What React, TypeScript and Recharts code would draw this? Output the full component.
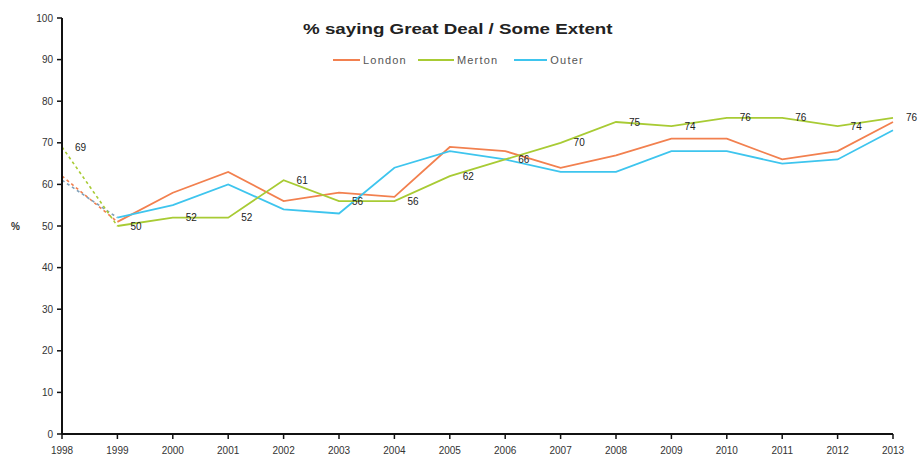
import React from 'react';
import { LineChart, Line, XAxis, YAxis, LabelList } from 'recharts';

const years = ['1998', '1999', '2000', '2001', '2002', '2003', '2004', '2005', '2006', '2007', '2008', '2009', '2010', '2011', '2012', '2013'];
const london = [62, 51, 58, 63, 56, 58, 57, 69, 68, 64, 67, 71, 71, 66, 68, 75];
const merton = [69, 50, 52, 52, 61, 56, 56, 62, 66, 70, 75, 74, 76, 76, 74, 76];
const outer = [61, 52, 55, 60, 54, 53, 64, 68, 66, 63, 63, 68, 68, 65, 66, 73];
const yTicks = [0, 10, 20, 30, 40, 50, 60, 70, 80, 90, 100];

const title = '% saying Great Deal / Some Extent';
const seriesNames = ['London', 'Merton', 'Outer'];
const colors = ['#F2804F', '#A8CB34', '#3EC5EE'];

// first year is a survey break: drawn dashed from 1998 to 1999
const data = years.map((y, i) => ({
  year: y,
  london: i >= 1 ? london[i] : null,
  merton: i >= 1 ? merton[i] : null,
  outer: i >= 1 ? outer[i] : null,
  londonDash: i <= 1 ? london[i] : null,
  mertonDash: i <= 1 ? merton[i] : null,
  outerDash: i <= 1 ? outer[i] : null,
  mertonLabel: merton[i],
}));

const font = '"Liberation Sans", Arial, sans-serif';
const legendLineW = [27, 36, 33];
const legendGap = [11, 16, 0];

export default function App() {
  return (
    <div style={{ position: 'relative', width: 914, height: 449, padding: '8px 0 0 8px' }}>
      <style>{'html{overflow:hidden} body{margin:0}'}</style>
      <LineChart width={914} height={449} data={data} margin={{ top: 10, right: 29, bottom: 3, left: 14 }} style={{ overflow: 'visible' }}>
        <XAxis
          dataKey="year"
          scale="point"
          padding={{ left: 0, right: 0 }}
          axisLine={{ stroke: '#111', strokeWidth: 2 }}
          tickLine={{ stroke: '#111', strokeWidth: 1.5 }}
          tickSize={5}
          tickMargin={8}
          height={20}
          interval={0}
          tick={{ fontSize: 10, fill: '#333', fontFamily: font }}
        />
        <YAxis
          domain={[0, 100]}
          ticks={yTicks}
          width={40}
          axisLine={{ stroke: '#111', strokeWidth: 2 }}
          tickLine={{ stroke: '#111', strokeWidth: 1.5 }}
          tickSize={5}
          tickMargin={4}
          tick={{ fontSize: 10, fill: '#333', fontFamily: font }}
          label={{ value: '%', position: 'left', offset: 2, fontSize: 10, fill: '#333', fontFamily: font, fontWeight: 'bold' }}
        />
        <Line dataKey="londonDash" stroke={colors[0]} strokeWidth={1.6} strokeDasharray="3 3" dot={false} isAnimationActive={false} connectNulls={false} />
        <Line dataKey="outerDash" stroke="#7F9FB8" strokeWidth={1.6} strokeDasharray="3 3" dot={false} isAnimationActive={false} connectNulls={false} />
        <Line dataKey="mertonDash" stroke={colors[1]} strokeWidth={1.6} strokeDasharray="3 3" dot={false} isAnimationActive={false} connectNulls={false} />
        <Line dataKey="london" stroke={colors[0]} strokeWidth={1.8} dot={false} isAnimationActive={false} />
        <Line dataKey="outer" stroke={colors[2]} strokeWidth={1.8} dot={false} isAnimationActive={false} />
        <Line dataKey="merton" stroke={colors[1]} strokeWidth={1.8} dot={false} isAnimationActive={false} />
        <Line dataKey="mertonLabel" stroke="none" dot={false} activeDot={false} isAnimationActive={false}>
          <LabelList dataKey="mertonLabel" position="right" offset={13} style={{ fontSize: 10, fill: '#222', fontFamily: font }} />
        </Line>
      </LineChart>
      <div style={{ position: 'absolute', left: 8, top: 20, width: 899, textAlign: 'center', fontFamily: font, fontWeight: 'bold', fontSize: 15, color: '#222' }}>
        <span style={{ display: 'inline-block', transform: 'scaleX(1.25)' }}>{title}</span>
      </div>
      <div style={{ position: 'absolute', left: 333, top: 54, display: 'flex', alignItems: 'center', fontFamily: font, fontSize: 11, color: '#555', letterSpacing: 1.2 }}>
        {seriesNames.map((n, i) => (
          <div key={n} style={{ display: 'flex', alignItems: 'center', marginRight: legendGap[i] }}>
            <div style={{ width: legendLineW[i], height: 0, borderTop: `2px solid ${colors[i]}`, marginRight: 3 }} />
            <span>{n}</span>
          </div>
        ))}
      </div>
    </div>
  );
}
